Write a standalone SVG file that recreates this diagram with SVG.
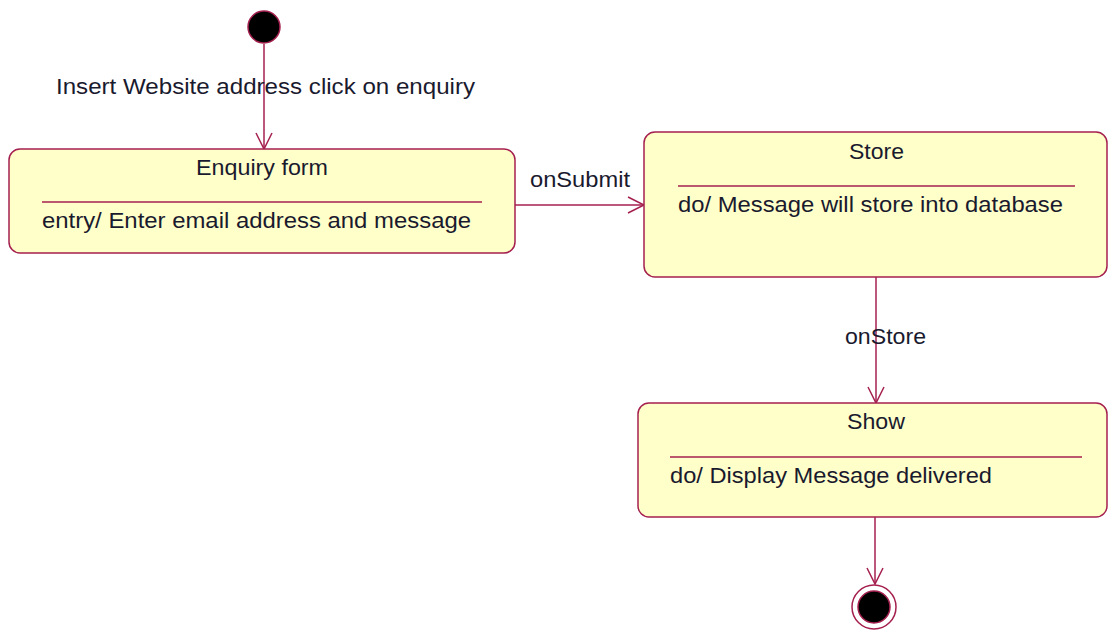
<svg xmlns="http://www.w3.org/2000/svg" width="1108" height="631" viewBox="0 0 1108 631">
<style>
.st{fill:#FFFFCA;stroke:#A5204F;stroke-width:1.5}
.dv{stroke:#A5204F;stroke-width:1.5}
.ln{stroke:#A5204F;stroke-width:1.5;fill:none}
text{font-family:"Liberation Sans",Arial,sans-serif;font-size:22px;fill:#1a1a2e}
</style>
<defs>
<marker id="ah" markerUnits="userSpaceOnUse" markerWidth="30" markerHeight="30" viewBox="-20 -15 30 30" refX="0" refY="0" orient="auto">
<path d="M-16,-8 L0,0 L-16,8" fill="none" stroke="#A5204F" stroke-width="1.5"/>
</marker>
</defs>
<g id="connectors">
<line class="ln" x1="264" y1="44" x2="264" y2="149" marker-end="url(#ah)"/>
<line class="ln" x1="515" y1="205" x2="644" y2="205" marker-end="url(#ah)"/>
<line class="ln" x1="876" y1="277" x2="876" y2="403" marker-end="url(#ah)"/>
<line class="ln" x1="875" y1="517" x2="875" y2="584" marker-end="url(#ah)"/>
<text x="56" y="94" textLength="419" lengthAdjust="spacingAndGlyphs">Insert Website address click on enquiry</text>
<text x="530" y="187" textLength="100" lengthAdjust="spacingAndGlyphs">onSubmit</text>
<text x="845" y="344" textLength="81" lengthAdjust="spacingAndGlyphs">onStore</text>
</g>
<g id="initial">
<circle cx="264" cy="27" r="16" fill="#000" stroke="#A5204F" stroke-width="1.5"/>
</g>
<g id="enquiry">
<rect class="st" x="9" y="149" width="506" height="104" rx="11"/>
<text x="196" y="175" textLength="132" lengthAdjust="spacingAndGlyphs">Enquiry form</text>
<line class="dv" x1="42" y1="202" x2="482" y2="202"/>
<text x="42" y="228" textLength="429" lengthAdjust="spacingAndGlyphs">entry/ Enter email address and message</text>
</g>
<g id="store">
<rect class="st" x="644" y="132" width="463" height="145" rx="11"/>
<text x="849" y="159" textLength="55" lengthAdjust="spacingAndGlyphs">Store</text>
<line class="dv" x1="678" y1="186" x2="1075" y2="186"/>
<text x="678" y="212" textLength="385" lengthAdjust="spacingAndGlyphs">do/ Message will store into database</text>
</g>
<g id="show">
<rect class="st" x="638" y="403" width="469" height="114" rx="11"/>
<text x="847" y="429" textLength="58" lengthAdjust="spacingAndGlyphs">Show</text>
<line class="dv" x1="670" y1="457" x2="1082" y2="457"/>
<text x="670" y="483" textLength="322" lengthAdjust="spacingAndGlyphs">do/ Display Message delivered</text>
</g>
<g id="final">
<circle cx="874" cy="607" r="22" fill="#fff" stroke="#A5204F" stroke-width="1.5"/>
<circle cx="874" cy="607" r="16" fill="#000" stroke="#A5204F" stroke-width="1.5"/>
</g>
</svg>
